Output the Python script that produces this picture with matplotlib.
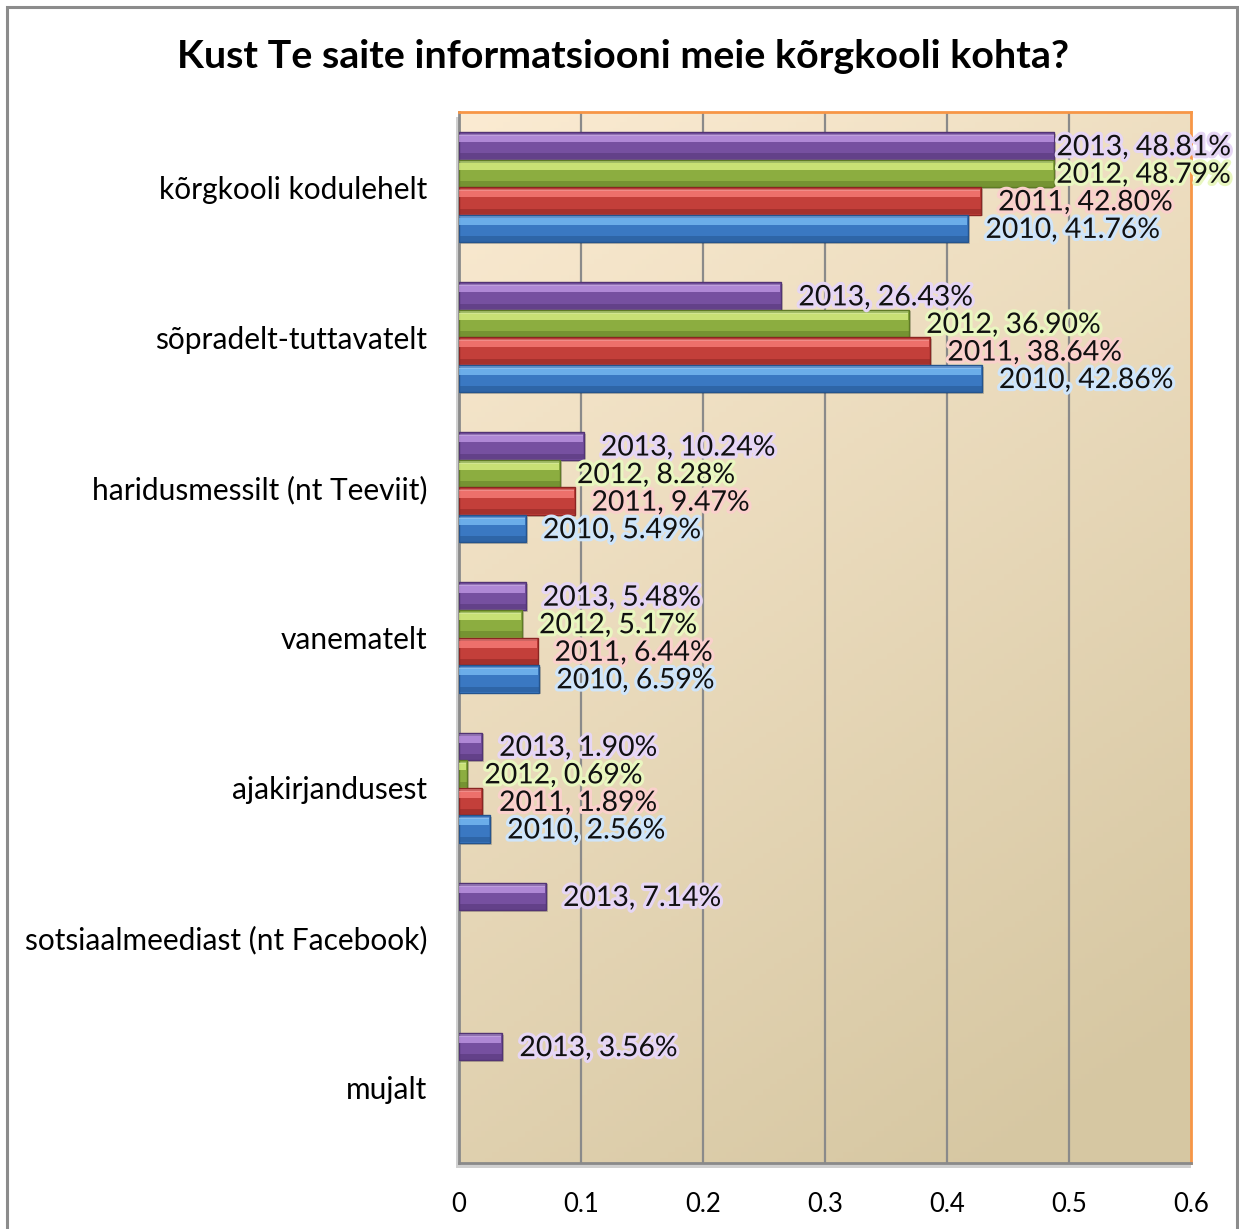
import numpy as np
import matplotlib
matplotlib.use("Agg")
import matplotlib.pyplot as plt
import matplotlib.patheffects as pe
from matplotlib.patches import Rectangle

plt.rcParams['font.family'] = ['Lato', 'DejaVu Sans']

title = "Kust Te saite informatsiooni meie kõrgkooli kohta?"
categories = ["kõrgkooli kodulehelt", "sõpradelt-tuttavatelt", "haridusmessilt (nt Teeviit)",
              "vanematelt", "ajakirjandusest", "sotsiaalmeediast (nt Facebook)", "mujalt"]
years = ["2013", "2012", "2011", "2010"]
values = {
    "2013": [0.4881, 0.2643, 0.1024, 0.0548, 0.0190, 0.0714, 0.0356],
    "2012": [0.4879, 0.3690, 0.0828, 0.0517, 0.0069, None, None],
    "2011": [0.4280, 0.3864, 0.0947, 0.0644, 0.0189, None, None],
    "2010": [0.4176, 0.4286, 0.0549, 0.0659, 0.0256, None, None],
}
xticks = [0, 0.1, 0.2, 0.3, 0.4, 0.5, 0.6]
xticklabels = ["0", "0.1", "0.2", "0.3", "0.4", "0.5", "0.6"]

# base, light highlight, dark edge, glow colour
colors = {
    "2013": ("#7650A0", "#C8A0EC", "#523474", "#E6D6F5"),
    "2012": ("#8CAD40", "#E2F78C", "#5F7A25", "#E9F7C0"),
    "2011": ("#C33F3A", "#FF8580", "#8A2522", "#FAD0CC"),
    "2010": ("#3A78C2", "#80C4FA", "#24548E", "#CFE5FA"),
}

W, H = 1239, 1229
fig = plt.figure(figsize=(W / 100, H / 100), dpi=100)

# outer border
fig.add_artist(Rectangle((7 / W, -0.01), (1237 - 7) / W, 1 - 7 / H + 0.01, transform=fig.transFigure,
                         fill=False, edgecolor="#8C8C8C", linewidth=2.2))

L, R, T, B = 459, 1191, 112, 1163
ax = fig.add_axes([L / W, 1 - B / H, (R - L) / W, (B - T) / H])

# shadow of plot area
fig.add_artist(Rectangle(((L - 3) / W, 1 - (B + 5) / H), (R - L + 3) / W, (B - T) / H,
                         transform=fig.transFigure, facecolor="#BDBDBD", edgecolor="none", zorder=0, alpha=0.7))

# background gradient
nx, ny = 200, 200
gx = np.linspace(0, 1, nx)[None, :]
gy = np.linspace(0, 1, ny)[:, None]
t = np.clip(0.35 * gx + 0.75 * gy, 0, 1) / 1.1
c0 = np.array([0xFB, 0xEB, 0xD2]) / 255
c1 = np.array([0xD3, 0xC4, 0x9E]) / 255
img = c0[None, None, :] * (1 - t[..., None]) + c1[None, None, :] * t[..., None]
ax.imshow(img, extent=[0, 1, 0, 1], transform=ax.transAxes, aspect="auto", zorder=0, origin="upper")

n = len(categories)
ax.set_xlim(0, 0.6)
ax.set_ylim(n - 0.5, -0.5)

bh = 0.1835
offsets = {"2013": -1.5 * bh, "2012": -0.5 * bh, "2011": 0.5 * bh, "2010": 1.5 * bh}

for x in xticks[1:-1]:
    ax.axvline(x, color="#8A8A8A", linewidth=1.6, zorder=1)

px_per_unit = (R - L) / 0.6
for yr in years:
    base, light, dark, glow = colors[yr]
    for i, v in enumerate(values[yr]):
        if v is None:
            continue
        yc = i + offsets[yr]
        # shadow
        ax.barh(yc + 0.012, v + 0.0015, height=bh, color="#000000", alpha=0.18, zorder=2, linewidth=0)
        ax.barh(yc, v, height=bh, color=base, edgecolor=dark, linewidth=1.0, zorder=3)
        ax.barh(yc - bh * 0.26, v - 0.0008, height=bh * 0.26, color=light, alpha=0.7, zorder=4, linewidth=0)
        ax.barh(yc - bh * 0.40, v - 0.0008, height=bh * 0.08, color="#FFFFFF", alpha=0.2, zorder=4, linewidth=0)
        ax.barh(yc + bh * 0.38, v, height=bh * 0.20, color=dark, alpha=0.5, zorder=4, linewidth=0)
        off_px = 2 if v > 0.48 else 17
        txt = f"{yr}, {v * 100:.2f}%"
        ax.text(v + off_px / px_per_unit, yc + 0.01, txt, ha="left", va="center", fontsize=20.4,
                color="#111111", zorder=6, clip_on=False,
                path_effects=[pe.withStroke(linewidth=4.5, foreground=glow)])

ax.set_yticks(range(n))
ax.set_yticklabels(categories, fontsize=21.5)
ax.set_xticks(xticks)
ax.set_xticklabels(xticklabels, fontsize=18.5)
ax.tick_params(axis="both", length=0)
ax.tick_params(axis="y", pad=23)
ax.tick_params(axis="x", pad=21)

for s in ["top", "right"]:
    ax.spines[s].set_color("#F79646")
    ax.spines[s].set_linewidth(2)
for s in ["left", "bottom"]:
    ax.spines[s].set_color("#8A8A8A")
    ax.spines[s].set_linewidth(2)

fig.text(623 / W, 1 - 56 / H, title, ha="center", va="center", fontsize=28.4, fontweight="bold")

fig.savefig("out.png", dpi=100)
